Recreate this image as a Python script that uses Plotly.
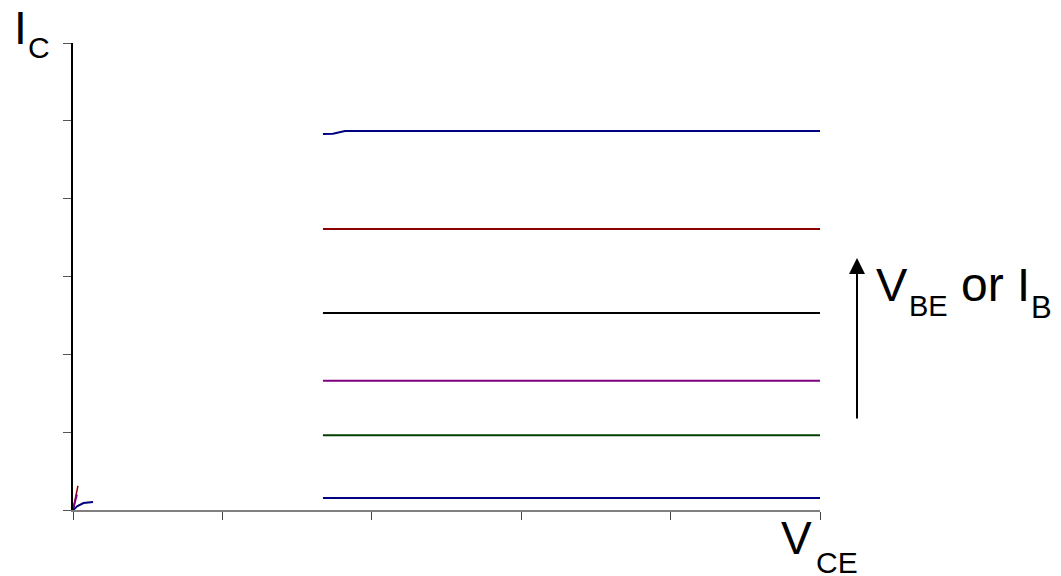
import plotly.graph_objects as go

# Output characteristics: collector current vs collector-emitter voltage
vce_start = 1.673
vce_end = 5.0
ic_levels = [4.87, 3.61, 2.53, 1.66, 0.96, 0.154]
curve_colors = ["#000080", "#8b0000", "#000000", "#800080", "#004000", "#000080"]

# knee on the top curve
top_knee_x = [1.673, 1.74, 1.82]
top_knee_y = [4.83, 4.835, 4.87]

# saturation fragments near the origin
origin_red_x = [0.0, 0.033, 0.012, 0.0]
origin_red_y = [0.0, 0.31, 0.08, 0.0]
origin_purple_x = [0.0, 0.026]
origin_purple_y = [0.0, 0.2]
origin_blue_x = [0.0, 0.03, 0.07, 0.134]
origin_blue_y = [0.0, 0.05, 0.09, 0.103]

x_ticks = [0, 1, 2, 3, 4, 5]
y_ticks = [0, 1, 2, 3, 4, 5, 6]

L, R, T, B = 73, 241, 43, 66
W, H = 1061, 576
pw, ph = W - L - R, H - T - B

fig = go.Figure()

for i, (lvl, col) in enumerate(zip(ic_levels, curve_colors)):
    if i == 0:
        xs = top_knee_x + [vce_end]
        ys = top_knee_y + [lvl]
    else:
        xs = [vce_start, vce_end]
        ys = [lvl, lvl]
    fig.add_trace(go.Scatter(x=xs, y=ys, mode="lines",
                             line=dict(color=col, width=2), hoverinfo="skip"))

fig.add_trace(go.Scatter(x=origin_red_x, y=origin_red_y, mode="lines",
                         fill="toself", fillcolor="#8b0000",
                         line=dict(color="#8b0000", width=1.5)))
fig.add_trace(go.Scatter(x=origin_purple_x, y=origin_purple_y, mode="lines",
                         line=dict(color="#800080", width=2)))
fig.add_trace(go.Scatter(x=origin_blue_x, y=origin_blue_y, mode="lines",
                         line=dict(color="#000080", width=2)))


def px_x(p):
    return (p - L) / pw


def px_y(p):
    return (H - B - p) / ph


FONT = "Liberation Sans, Arial, sans-serif"


def label(text, left, top, size):
    fig.add_annotation(text=text, xref="paper", yref="paper",
                       x=px_x(left), y=px_y(top), xanchor="left", yanchor="top",
                       showarrow=False, borderpad=0,
                       font=dict(family=FONT, size=size, color="#000"))


label("I", 13, 1, 46)
label("C", 27, 30, 30)
label("V", 780, 511, 46)
label("CE", 815, 545, 30)
label("V", 875, 257, 47)
label("BE", 908, 289, 29)
label("or", 960, 257, 48)
label("I", 1016, 257, 47)
label("B", 1030, 289, 31)

# arrow showing increasing base drive
fig.add_annotation(xref="paper", yref="paper", x=px_x(857), y=px_y(258),
                   axref="pixel", ayref="pixel", ax=0, ay=162,
                   text="", showarrow=True,
                   arrowhead=2, arrowsize=1.6, arrowwidth=2, arrowcolor="#000")

fig.update_layout(
    width=W, height=H,
    margin=dict(l=L, r=R, t=T, b=B),
    paper_bgcolor="white", plot_bgcolor="white",
    showlegend=False,
    xaxis=dict(range=[0, 5], tickvals=x_ticks, showticklabels=False,
               ticks="outside", ticklen=8, tickcolor="#444", tickwidth=1,
               showline=True, linecolor="#808080", linewidth=2,
               showgrid=False, zeroline=False),
    yaxis=dict(range=[0, 6], tickvals=y_ticks, showticklabels=False,
               ticks="outside", ticklen=8, tickcolor="#555", tickwidth=1,
               showline=True, linecolor="#000", linewidth=1.5,
               showgrid=False, zeroline=False),
)

fig.write_html("out.html")
